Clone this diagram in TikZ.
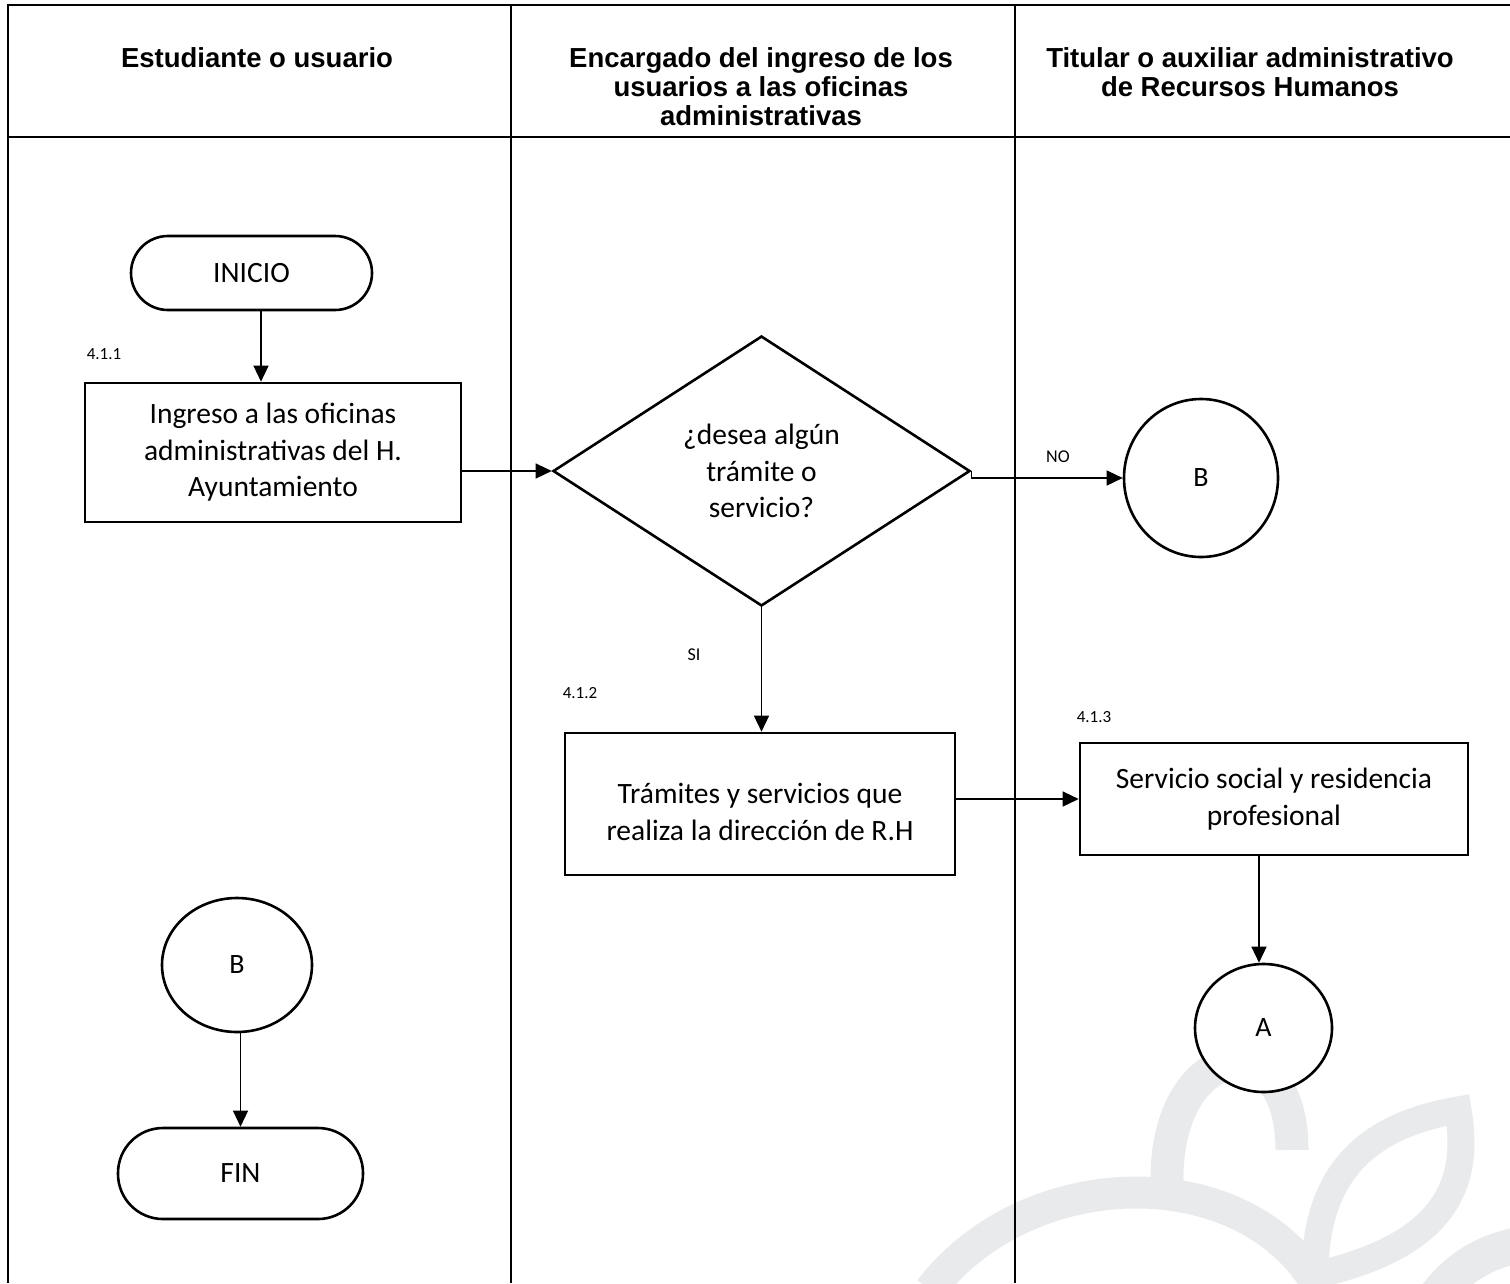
\documentclass[tikz,border=0pt]{standalone}
\usepackage{fontspec}
\setmainfont{Carlito}
\newfontfamily\carrilfont{Liberation Sans}
\usetikzlibrary{shapes.geometric,arrows.meta}
\definecolor{marcagris}{RGB}{233,234,236}

\begin{document}
\begin{tikzpicture}[x=1pt,y=-1pt,
		carril/.style={line width=2pt},
		titulo/.style={anchor=north,align=center,font=\carrilfont\bfseries\fontsize{27.5}{29}\selectfont},
		proceso/.style={draw,line width=2.6pt,fill=white,inner sep=0pt,align=center,font=\fontsize{29.5}{36.5}\selectfont},
		conector/.style={draw,ellipse,line width=2.6pt,fill=white,inner sep=0pt,font=\fontsize{28}{30}\selectfont},
		decision/.style={draw,diamond,line width=2.6pt,fill=white,inner sep=0pt,align=center,font=\fontsize{29.5}{36.5}\selectfont},
		flecha/.style={line width=1.3pt,-{Triangle[length=16pt,width=15pt]}},
		paso/.style={font=\fontsize{17}{20}\selectfont},
		rama/.style={font=\fontsize{18}{20}\selectfont},
		marca/.style={marcagris,line width=32pt}]
		\useasboundingbox (0,0) rectangle (1510,1283);
		% marca de agua
		\begin{scope}
			\clip (0,0) rectangle (1510,1283);
			\draw[marca] (930,1290) .. controls (1030,1160) and (1250,1160) .. (1320,1290);
			\draw[marca,line width=33pt] (1167,1182) .. controls (1165,1040) and (1292,1020) .. (1292,1150);
			\draw[marca,line width=27pt] (1315,1275) .. controls (1315,1170) and (1370,1125) .. (1458,1110) .. controls (1470,1180) and (1450,1245) .. (1315,1275) -- cycle;
			\draw[marca,line width=36pt] (1437,1295) .. controls (1460,1265) and (1490,1250) .. (1520,1245);
		\end{scope}
		% carriles
		\draw[line width=2.5pt] (7,5) -- (1510,5);
		\draw[carril] (8,5) -- (8,1283);
		\draw[carril] (8,137) -- (1510,137);
		\draw[carril] (511,5) -- (511,1283);
		\draw[carril] (1015,5) -- (1015,1283);
		\node[titulo] (tit1) at (257,44) {Estudiante o usuario};
		\node[titulo] (tit2) at (761,44) {Encargado del ingreso de los\\usuarios a las oficinas\\administrativas};
		\node[titulo] (tit3) at (1250,44) {Titular o auxiliar administrativo\\de Recursos Humanos};
		% nodos
		\node[proceso,rounded corners=37pt,minimum width=241pt,minimum height=74pt] (inicio) at (251.5,273) {INICIO};
		\node[proceso,minimum width=376pt,minimum height=139pt] (ingreso) at (273,452.5) {Ingreso a las oficinas\\administrativas del H.\\Ayuntamiento};
		\node[decision,minimum width=417pt,minimum height=270pt] (desea) at (761.5,471) {¿desea algún\\trámite o\\servicio?};
		\node[conector,minimum width=154pt,minimum height=158pt] (conB) at (1201,478) {B};
		\node[proceso,minimum width=390pt,minimum height=142pt] (tramites) at (760,804) {\rule{0pt}{36pt}Trámites y servicios que\\realiza la dirección de R.H};
		\node[proceso,minimum width=388pt,minimum height=112pt] (servicio) at (1274,799) {Servicio social y residencia\\profesional};
		\node[conector,minimum width=137pt,minimum height=128pt] (conA) at (1263.5,1028) {A};
		\node[conector,minimum width=150pt,minimum height=134pt] (conBfin) at (237,965) {B};
		\node[proceso,rounded corners=45pt,minimum width=245pt,minimum height=91pt] (fin) at (240.5,1173.5) {FIN};
		% etiquetas
		\node[paso] (p1) at (104,354) {4.1.1};
		\node[paso] (p2) at (580,693) {4.1.2};
		\node[paso] (p3) at (1094,717) {4.1.3};
		\node[rama] (si) at (694,655) {SI};
		\node[rama] (no) at (1058,457) {NO};
		% flechas
		\draw[flecha] ([xshift=9.5pt]inicio.south) -- ([xshift=9.5pt]inicio.south |- ingreso.north);
		\draw[flecha] (ingreso.east |- desea.west) -- (desea.west);
		\draw[flecha] (desea.east) |- (conB.west);
		\draw[flecha] (desea.south) -- (desea.south |- tramites.north);
		\draw[flecha] (tramites.east |- servicio.west) -- (servicio.west);
		\draw[flecha] ([xshift=-4.5pt]conA.north |- servicio.south) -- ([xshift=-4.5pt]conA.north);
		\draw[flecha] (conBfin.south -| fin.north) -- (fin.north);
	\end{tikzpicture}
\end{document}
